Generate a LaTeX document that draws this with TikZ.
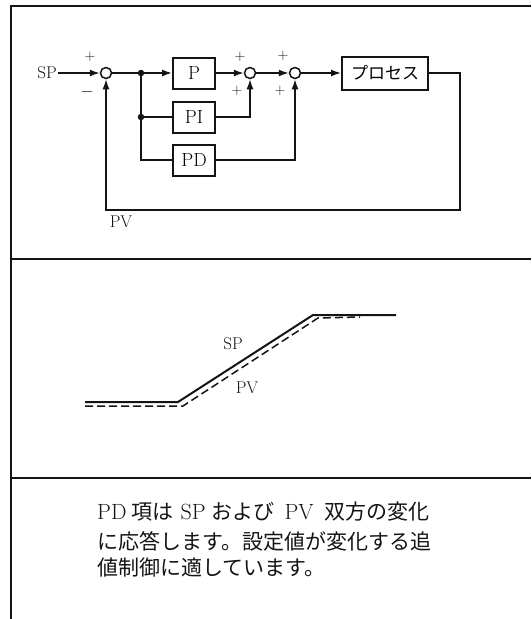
\documentclass[tikz,border=0pt]{standalone}
\usepackage{fontspec}
\usepackage{tikz}
\usetikzlibrary{arrows.meta, positioning, calc}
\newfontfamily\jafont{Noto Sans CJK JP}
\definecolor{ink}{RGB}{20,20,20}
\tikzset{
  ctrlblock/.style={rectangle, draw=ink, minimum width=42pt, minimum height=31pt,
    inner sep=1pt, line width=2pt, font=\fontsize{19}{19}\selectfont},
  sumnode/.style={circle, draw=ink, line width=1.5pt, minimum size=11pt, inner sep=0pt},
  dotnode/.style={circle, fill=ink, minimum size=6.5pt, inner sep=0pt},
  arrow/.style={-{Latex[length=10pt,width=7pt]}, line width=1.5pt, color=ink},
  line/.style={line width=1.5pt, color=ink},
  frame/.style={line width=1.8pt, color=ink},
  lbl/.style={font=\fontsize{17}{17}\selectfont, inner sep=1pt, text=ink},
  sign/.style={font=\fontsize{15}{15}\selectfont, inner sep=0pt, text=ink},
  txt/.style={font=\fontsize{21}{25}\selectfont, anchor=west, inner sep=0pt, text=ink}
}
\newcommand{\latn}[1]{{\fontsize{22}{25}\selectfont #1}}

\begin{document}
\begin{tikzpicture}[x=1pt, y=-1pt]
  \useasboundingbox (0,0) rectangle (531,619);
  \fill[white] (0,0) rectangle (531,619);

  \draw[frame] (531,6) -- (11,6) -- (11,619);
  \draw[frame] (11,259) -- (531,259);
  \draw[frame] (11,478) -- (531,478);

  \node[lbl] (sp) at (47,73) {SP};
  \node[sumnode] (s1) at (106,73) {};
  \node[dotnode] (j1) at (141,73) {};
  \node[dotnode] (j2) at (141,117) {};
  \node[ctrlblock] (p) at (194,73) {P};
  \node[ctrlblock] (pi) at (194,117) {PI};
  \node[ctrlblock] (pd) at (194,160) {PD};
  \node[sumnode] (s2) at (250,73) {};
  \node[sumnode] (s3) at (295,73) {};
  \node[ctrlblock, minimum width=86pt, minimum height=33pt,
    font=\jafont\fontsize{17}{17}\selectfont] (proc) at (385,73) {プロセス};
  \coordinate (fb) at (460,210);

  \node[sign] (s1p) at (90,57) {+};
  \node[sign, font=\fontsize{18}{18}\selectfont] (s1m) at (87,92) {$-$};
  \node[sign] (s2a) at (240,57) {+};
  \node[sign] (s2b) at (237,91) {+};
  \node[sign] (s3a) at (283,56) {+};
  \node[sign] (s3b) at (280,91) {+};

  \draw[arrow] (sp) -- (s1);
  \draw[line] (s1) -- (j1);
  \draw[arrow] (j1) -- (p);
  \draw[line] (j1) |- (pd.west);
  \draw[line] (j2) -- (pi);
  \draw[arrow] (p) -- (s2);
  \draw[arrow] (s2) -- (s3);
  \draw[arrow] (s3) -- (proc);
  \draw[arrow] (pi) -| (s2);
  \draw[arrow] (pd) -| (s3);
  \draw[arrow] (proc) -| (fb) -| (s1);
  \node[lbl] (pv) at (121,222) {PV};

  \draw[line, line width=2pt] (85,402) -- (178,402) -- (313,315) -- (396,315);
  \draw[line, dash pattern=on 8pt off 4pt] (85,406) -- (183,406) -- (318,318) -- (360,317);
  \node[lbl] (gsp) at (233,344) {SP};
  \node[lbl] (gpv) at (247,388) {PV};

  \node[txt] (t1) at (97,512) {\latn{PD}\hspace{5pt}{\jafont 項は}\hspace{7pt}\latn{SP}\hspace{6pt}{\jafont および}\hspace{10pt}\latn{PV}\hspace{11pt}{\jafont 双方の変化}};
  \node[txt] (t2) at (97,541) {\jafont に応答します。設定値が変化する追};
  \node[txt] (t3) at (97,568) {\jafont 値制御に適しています。};
\end{tikzpicture}
\end{document}
